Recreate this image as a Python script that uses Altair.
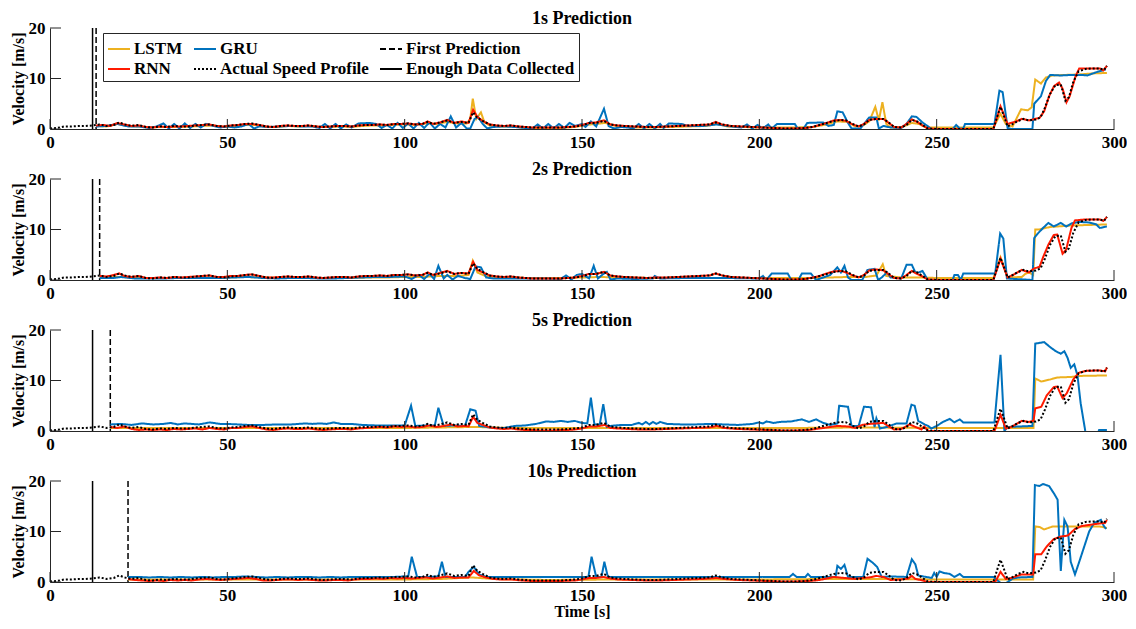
import altair as alt
import pandas as pd

# ---------------- data ----------------
# legend entries are laid out column by column (2 rows x 3 columns)
SERIES_DOMAIN = ["LSTM", "RNN", "GRU", "Actual Speed Profile", "First Prediction", "Enough Data Collected"]
SERIES_COLORS = ["#EDB120", "#FF1A00", "#0072BD", "#000000", "#000000", "#000000"]
SERIES_DASH = [[1, 0], [1, 0], [1, 0], [2, 2], [6, 3], [1, 0]]
PANEL_TITLES = ["1s Prediction", "2s Prediction", "5s Prediction", "10s Prediction"]
ENOUGH_DATA_T = 12
FIRST_PRED_T = [13, 14, 17, 22]
X_TICKS = [0, 50, 100, 150, 200, 250, 300]
Y_TICKS = [0, 10, 20]

ACTUAL = [(0,0.1),(2,0.2),(4,0.5),(6,0.5),(8,0.6),(10,0.6),(12,0.7),(14,0.9),(16,0.6),(18,0.8),(19.5,1.3),(21,0.9),(23,0.6),(25,0.8),(27,0.4),(29,0.3),(31,0.5),(33,0.4),(35,0.6),(37,0.5),(39,0.5),(41,0.7),(43,0.8),(45,0.9),(47,0.6),(49,0.5),(51,0.7),(53,0.8),(55,1.0),(57,1.1),(59,0.8),(61,0.5),(63,0.4),(65,0.6),(67,0.7),(69,0.6),(71,0.6),(73,0.7),(75,0.5),(77,0.4),(79,0.5),(81,0.6),(83,0.6),(85,0.5),(87,0.7),(89,0.8),(91,0.8),(93,0.9),(95,0.8),(97,1.0),(99,1.0),(101,1.1),(103,0.9),(105,1.0),(106.5,1.4),(108,1.0),(110,1.3),(112,1.7),(114,1.2),(116,1.4),(118,1.2),(119.3,3.3),(120.5,2.2),(122,1.6),(124,0.9),(126,0.7),(128,0.6),(130,0.7),(132,0.5),(134,0.4),(136,0.3),(138,0.3),(140,0.3),(142,0.3),(144,0.3),(146,0.4),(148,0.5),(150,0.7),(152,1.2),(154,1.2),(156.2,1.6),(158,0.9),(160,0.7),(162,0.6),(165,0.5),(168,0.4),(171,0.4),(174,0.5),(177,0.6),(180,0.7),(183,0.8),(186,0.9),(187.7,1.3),(189.5,0.9),(192,0.6),(195,0.5),(198,0.4),(201,0.3),(204,0.2),(207,0.1),(210,0.1),(213,0.2),(215,0.4),(217,0.8),(219,1.2),(221,1.6),(223,1.8),(224.5,1.7),(226,1.1),(228,0.5),(229.5,0.9),(231,1.8),(233,2.0),(235,2.0),(236.5,1.3),(238,0.4),(240,0.3),(241.5,0.8),(243,1.8),(244.5,1.5),(246,0.8),(247.5,0.1),(250,0),(254,0),(258,0),(262,0),(266,0),(267,2.3),(268,4.4),(269,2.5),(270,0.5),(271.5,1.0),(273,1.6),(274.5,2.0),(276,1.7),(278,1.9),(279.3,2.3),(280.5,4.2),(282,7.0),(283.5,8.7),(285,8.8),(286.3,5.6),(287.3,6.3),(288.5,9.3),(290,11.4),(292,11.9),(294,12.0),(296,12.0),(297.2,11.7),(298,12.5)]

P1_LSTM = [(13,0.6),(16,0.5),(19,1.0),(22,0.6),(25,0.5),(28,0.3),(31,0.4),(34,0.4),(37,0.4),(40,0.5),(43,0.6),(46,0.7),(49,0.4),(52,0.6),(55,0.8),(58,0.8),(61,0.4),(64,0.4),(67,0.6),(70,0.5),(73,0.6),(76,0.4),(79,0.4),(82,0.5),(85,0.4),(88,0.6),(91,0.7),(94,0.7),(97,0.8),(100,0.9),(103,0.8),(106,1.1),(109,1.0),(112,1.4),(115,1.1),(117.5,1.1),(118.5,2.0),(119.2,6.0),(120.2,2.0),(121.5,3.3),(122.5,1.3),(124,0.7),(127,0.5),(130,0.5),(133,0.3),(136,0.2),(140,0.2),(144,0.2),(148,0.4),(151,0.8),(154,1.0),(156.5,1.2),(159,0.7),(162,0.4),(166,0.3),(170,0.3),(175,0.4),(180,0.5),(185,0.6),(188,1.0),(191,0.5),(195,0.4),(200,0.3),(205,0.3),(210,0.3),(215,0.4),(219,0.9),(222,1.5),(225,1.4),(227,0.5),(229,0.6),(231,1.5),(232.7,4.4),(233.7,1.7),(234.7,5.3),(235.8,1.0),(237,0.3),(240,0.3),(243,1.2),(245,1.0),(247,0.3),(250,0.3),(266,0.3),(268,3.0),(269.5,1.0),(271.4,0.5),(273.8,3.9),(275.7,3.7),(276.8,4.3),(277.8,9.8),(279.4,9.0),(280.8,10.2),(282.7,10.6),(286,10.7),(290,10.8),(294,11.0),(298,11.1)]
P1_GRU = [(13,0.5),(16,0.6),(19,1.0),(22,0.5),(25,0.5),(28,0.2),(30,0.5),(32,1.1),(33.5,0.1),(35,1.0),(36.5,0.1),(38,1.1),(39.5,0.2),(41,1.0),(42.5,0.3),(44,1.0),(46,0.6),(48,0.3),(50,0.5),(52,0.3),(54,0.5),(56,1.0),(57.5,0.1),(59,0.5),(62,0.4),(65,0.5),(68,0.6),(71,0.5),(74,0.5),(76,0.2),(77.5,1.0),(79,0.1),(80.5,1.0),(82,0.1),(83.5,0.9),(85,0.3),(87,1.1),(90,1.2),(92,1.0),(93.5,0.2),(95,0.8),(96.5,0.1),(98,1.2),(99.5,0.2),(101,1.1),(102.5,0.1),(104,1.2),(105.5,0.2),(107,1.3),(108.5,0.1),(110,1.0),(111.5,0.3),(113,2.5),(114.5,0.3),(116,1.2),(117.5,0.1),(118.5,0.1),(119.7,2.0),(120.7,2.4),(122,1.0),(123.3,0.1),(125,0.4),(128,0.5),(131,0.4),(134,0.2),(136,0.1),(137.5,0.9),(139,0.1),(140.5,1.0),(142,0.1),(143.5,1.0),(145,0.2),(146.5,1.2),(148,0.6),(150,1.0),(151,0.4),(152.5,1.5),(154,0.5),(156.2,4.0),(157.5,0.6),(159,0.1),(161,0.4),(163,0.3),(164.5,0.1),(166,1.0),(167.5,0.1),(169,1.0),(170.5,0.1),(172,1.0),(173,0.2),(174.5,1.1),(178,1.0),(180,0.6),(184,0.6),(188,0.9),(192,0.5),(195,0.3),(196.5,0.9),(198,0.1),(199.5,0.8),(201,0.1),(202.5,0.9),(203.5,0.1),(205,1.0),(210,1.0),(210.8,0.1),(212.5,0.1),(213.5,1.2),(218,1.3),(219.5,0.6),(221,0.8),(222,3.5),(223.5,3.3),(225,1.2),(226,0.1),(228.5,0.1),(229.5,1.0),(231,2.3),(233,2.3),(233.7,0.1),(235,0.6),(237,0.3),(240,0.2),(241.5,1.0),(243,2.5),(244.3,2.4),(246,1.3),(247.6,0.5),(248.5,0.0),(254.5,0.0),(255.5,0.8),(256.5,0.1),(257.5,0.1),(258,1.0),(266.3,1.0),(267.7,7.6),(268.6,7.3),(270,0.2),(271,0.0),(277,0.0),(277.5,5.0),(279.4,6.5),(280.8,9.5),(282,10.7),(285,10.6),(288,10.7),(291,10.7),(292.5,10.6),(294.8,11.2),(297.7,11.8)]
P1_RNN = [(13,0.7),(15,0.8),(17,0.6),(19,1.2),(21,0.9),(23,0.6),(25,0.7),(27,0.4),(29,0.3),(31,0.5),(33,0.4),(35,0.5),(37,0.5),(39,0.6),(41,0.7),(43,0.8),(45,0.9),(47,0.6),(49,0.5),(51,0.7),(53,0.8),(55,1.0),(57,1.0),(59,0.8),(61,0.5),(63,0.4),(65,0.6),(67,0.7),(69,0.6),(71,0.6),(73,0.7),(75,0.5),(77,0.4),(79,0.5),(81,0.6),(83,0.6),(85,0.5),(87,0.7),(89,0.8),(91,0.8),(93,0.9),(95,0.8),(97,1.0),(99,1.0),(101,1.1),(103,0.9),(105,1.0),(106.5,1.5),(108,1.0),(110,1.3),(112,1.8),(114,1.2),(116,1.5),(118,1.2),(119.3,3.8),(120.5,2.4),(122,1.6),(124,0.9),(126,0.7),(128,0.6),(130,0.7),(132,0.5),(134,0.4),(136,0.3),(138,0.3),(140,0.3),(142,0.3),(144,0.3),(146,0.4),(148,0.5),(150,0.8),(152,1.2),(154,1.3),(156.2,1.7),(158,0.9),(160,0.7),(162,0.6),(165,0.5),(168,0.4),(171,0.4),(174,0.5),(177,0.6),(180,0.7),(183,0.8),(186,0.9),(187.7,1.4),(189.5,0.9),(192,0.6),(195,0.5),(198,0.4),(201,0.3),(204,0.2),(207,0.1),(210,0.1),(213,0.2),(215,0.4),(217,0.8),(219,1.2),(221,1.7),(223,1.8),(224.5,1.6),(226,1.0),(228,0.5),(229.5,1.0),(231,1.8),(233,2.0),(235,2.0),(236.5,1.2),(238,0.4),(240,0.3),(241.5,1.0),(243,1.9),(244.5,1.4),(246,0.7),(247.5,0.1),(250,0),(266,0),(268,4.5),(270,1.0),(272.4,1.5),(274,2.0),(276,1.7),(279,2.2),(280.3,3.5),(281.7,6.5),(283.1,8.5),(284.5,9.2),(285.5,8.0),(286.6,5.3),(287.5,6.5),(289.2,10.5),(290.2,12.0),(294,12.0),(296,12.0),(297,11.6),(298,12.5)]

P2_LSTM = [(14,0.5),(20,0.6),(25,0.4),(30,0.4),(35,0.4),(40,0.4),(45,0.5),(50,0.5),(55,0.6),(60,0.5),(65,0.4),(70,0.4),(75,0.4),(80,0.4),(85,0.4),(90,0.5),(95,0.5),(100,0.6),(105,0.6),(110,0.8),(115,0.8),(118,1.0),(119.2,3.8),(120.5,1.5),(123,0.7),(128,0.5),(135,0.4),(140,0.4),(145,0.4),(150,0.5),(155,0.6),(160,0.5),(170,0.4),(180,0.4),(190,0.4),(200,0.4),(210,0.4),(215,0.4),(220,0.5),(225,0.6),(230,0.6),(233,0.9),(234.8,3.1),(235.8,0.8),(240,0.5),(245,0.5),(250,0.4),(266,0.4),(268,4.5),(270,0.5),(274,0.6),(275,1.2),(276,1.5),(277.2,1.0),(277.8,10.0),(279,10.0),(280,10.2),(282,10.5),(284,10.6),(288,10.8),(298,11.0)]
P2_GRU = [(14,0.4),(18,0.4),(20,0.6),(24,0.3),(28,0.3),(32,0.3),(36,0.4),(40,0.4),(44,0.4),(48,0.4),(52,0.5),(56,0.6),(60,0.4),(64,0.3),(68,0.4),(72,0.4),(76,0.3),(80,0.3),(84,0.4),(88,0.5),(92,0.6),(96,0.6),(100,0.7),(102,0.2),(104,1.0),(105.5,0.2),(107,1.2),(108.3,0.2),(109.5,2.8),(111,0.3),(112,1.0),(113.5,0.1),(115,0.8),(117,0.4),(118.5,0.2),(120,2.7),(121.5,2.5),(123,0.5),(125,0.3),(130,0.3),(135,0.3),(140,0.3),(144,0.2),(145.5,0.9),(147,0.1),(148.5,1.0),(150,1.2),(152,0.3),(153.3,2.8),(154.5,0.3),(156,1.2),(157,1.6),(158,0.1),(160,0.3),(165,0.2),(170,0.3),(170.5,0.8),(172,0.3),(180,0.4),(190,0.4),(200,0.3),(201,0.8),(202,0.0),(203.5,1.3),(208,1.3),(209,0.0),(211,0.0),(212,1.3),(214.5,1.3),(216,0.0),(218,0.5),(220,1.0),(222,2.5),(223,1.5),(224,2.8),(225,0.5),(226,0.0),(229,0.0),(230.5,2.0),(232.5,2.2),(233.5,0.0),(234.5,0.5),(236,1.5),(237,0.5),(240,0.3),(241.5,3.0),(243,3.0),(244,1.5),(245,1.5),(246,1.8),(247.5,0.0),(254.5,0.0),(255,1.0),(256,1.0),(256.8,0.0),(257.5,1.3),(266.5,1.3),(267.9,9.2),(268.8,8.2),(269.8,0.3),(277,0.0),(277.5,8.3),(278.5,9.2),(280,10.3),(281.5,11.3),(283,10.6),(285,11.3),(286.5,10.6),(288,11.2),(290,11.5),(293,11.4),(295,11.0),(296,10.3),(298,10.6)]
P2_RNN = [(14,0.8),(16,0.7),(18,1.0),(19.5,1.3),(21,0.8),(23,0.6),(25,0.8),(27,0.4),(29,0.4),(31,0.5),(33,0.4),(35,0.6),(37,0.5),(39,0.6),(41,0.7),(43,0.8),(45,0.9),(47,0.6),(49,0.6),(51,0.8),(53,0.8),(55,1.0),(57,1.1),(59,0.8),(61,0.5),(63,0.5),(65,0.6),(67,0.7),(69,0.6),(71,0.6),(73,0.7),(75,0.5),(77,0.4),(79,0.5),(81,0.6),(83,0.6),(85,0.5),(87,0.7),(89,0.8),(91,0.8),(93,0.9),(95,0.8),(97,1.0),(99,1.0),(101,1.1),(103,0.9),(105,1.0),(106.5,1.5),(108,1.0),(110,1.4),(112,1.8),(114,1.2),(116,1.4),(118,1.3),(119.3,3.6),(120.5,2.0),(122,1.5),(124,0.9),(126,0.7),(128,0.6),(130,0.7),(132,0.5),(134,0.4),(136,0.3),(138,0.3),(140,0.3),(142,0.3),(144,0.3),(146,0.4),(148,0.5),(150,0.8),(152,1.2),(154,1.2),(156.2,1.6),(158,0.9),(160,0.7),(162,0.6),(165,0.5),(168,0.4),(171,0.5),(174,0.5),(177,0.6),(180,0.7),(183,0.8),(186,0.9),(187.7,1.3),(189.5,0.9),(192,0.6),(195,0.5),(198,0.4),(201,0.3),(204,0.2),(207,0.1),(210,0.1),(213,0.2),(215,0.5),(217,0.8),(219,1.3),(221,1.7),(223,1.8),(224.5,1.5),(226,1.0),(228,0.5),(229.5,1.0),(231,1.9),(233,2.1),(235,1.9),(236.5,1.1),(238,0.4),(240,0.3),(241.5,1.0),(243,1.8),(244.5,1.2),(246,0.7),(247.5,0.1),(250,0),(266,0),(268,4.2),(270,0.5),(271.5,1.0),(274,2.0),(276,1.5),(277.5,2.3),(279,2.6),(280,4.5),(281.5,7.0),(283,8.9),(284,9.0),(285.5,5.2),(286.5,6.0),(288,10.3),(289,11.8),(292,12.0),(296,12.0),(297,11.7),(298,12.5)]

P3_LSTM = [(17,0.6),(30,0.6),(50,0.6),(70,0.6),(90,0.6),(100,0.6),(110,0.7),(120,0.8),(130,0.6),(150,0.6),(170,0.6),(190,0.6),(210,0.6),(230,0.7),(250,0.6),(277.3,0.6),(277.8,10.4),(279.5,9.8),(282,10.2),(284,10.6),(288,10.7),(290,10.9),(298,11.0)]
P3_GRU = [(17,1.3),(20,1.4),(23,1.2),(26,1.5),(29,1.3),(32,1.4),(34,1.6),(36,1.3),(38,1.5),(40,1.4),(42,1.3),(45,1.7),(48,1.4),(50,1.4),(53,1.3),(56,1.2),(60,1.2),(64,1.3),(68,1.3),(72,1.5),(74,1.4),(76,1.5),(78,1.4),(80,1.7),(82,1.4),(85,1.4),(88,1.2),(92,1.1),(96,1.1),(100,1.1),(101.8,5.0),(103,1.0),(106,1.1),(108.5,1.1),(109.5,4.6),(111,1.0),(114,1.1),(117,1.0),(118.5,4.3),(120,4.0),(121,1.0),(123,0.8),(125,0.6),(128,0.6),(131,1.0),(134,1.1),(137,1.4),(140,1.9),(142,1.8),(144,2.0),(146,1.8),(148,2.0),(150,1.6),(151.5,1.5),(152.5,6.6),(153.5,1.3),(155,1.3),(156,5.3),(157,0.8),(158,1.0),(161,1.2),(164,1.2),(166,1.6),(167,1.3),(168,1.8),(169,1.3),(170,1.8),(171,1.4),(172,1.8),(174,1.4),(178,1.3),(182,1.3),(186,1.4),(190,1.3),(194,1.2),(198,1.4),(200,1.7),(201,1.5),(202,1.9),(204,1.6),(206,1.8),(209,1.9),(212,2.3),(214,1.8),(216,2.3),(218,1.6),(220,1.2),(222,1.5),(222.5,5.0),(225,4.8),(226,1.0),(228,1.0),(229.5,4.8),(231.5,4.7),(232.5,0.8),(233,2.5),(234,0.5),(236,0.8),(238.7,1.5),(241.5,1.5),(242.9,5.2),(243.8,5.0),(244.8,2.0),(246.6,1.3),(247.6,1.0),(248.5,0.5),(250,1.0),(251.8,1.8),(253.7,2.4),(255,1.7),(256.5,2.3),(257.5,1.7),(266.3,1.7),(268,15.1),(269.1,0.0),(270,0.8),(277,1.0),(277.8,17.3),(280.3,17.6),(282.2,16.5),(283.6,15.8),(285,15.3),(286,15.8),(286.9,14.5),(287.8,12.5),(288.8,13.2),(289.7,11.0),(290.6,5.5),(291.9,0.0),(293,-3.0),(295.2,-1.0),(295.8,0.2),(298,0.2)]
P3_RNN = [(17,0.8),(19,0.6),(21,0.9),(23,0.4),(25,0.2),(27,0.3),(29,0.2),(31,0.3),(33,0.2),(35,0.4),(37,0.3),(39,0.4),(41,0.5),(43,0.3),(45,0.6),(47,0.4),(49,0.3),(51,0.6),(53,0.6),(55,0.8),(57,0.9),(59,0.6),(61,0.3),(63,0.2),(65,0.4),(67,0.5),(69,0.4),(71,0.4),(73,0.5),(75,0.3),(77,0.2),(79,0.3),(81,0.4),(83,0.4),(85,0.3),(87,0.5),(89,0.6),(91,0.7),(93,0.8),(95,0.7),(97,0.9),(99,0.8),(101,0.9),(103,0.7),(105,0.8),(107,1.1),(109,0.8),(111,1.0),(113,1.3),(115,0.9),(117,1.0),(118,0.9),(119.3,2.8),(120.5,1.6),(122,1.2),(124,0.7),(126,0.5),(128,0.4),(130,0.5),(132,0.3),(134,0.2),(136,0.2),(138,0.1),(140,0.1),(142,0.1),(144,0.2),(146,0.2),(148,0.3),(150,0.5),(152,0.9),(154,0.9),(156.5,1.2),(158,0.6),(160,0.5),(163,0.4),(166,0.3),(170,0.3),(174,0.4),(178,0.5),(182,0.6),(186,0.7),(188,1.0),(190,0.6),(194,0.4),(198,0.3),(202,0.2),(206,0.1),(210,0.1),(214,0.2),(217,0.5),(220,0.8),(222,1.0),(225,0.9),(227,0.6),(229,1.2),(231,1.4),(233,1.5),(235,1.6),(236.5,0.9),(238,0.3),(240,0.4),(242.4,1.3),(244,0.8),(245.7,0.3),(246.5,0.9),(247.6,0.0),(266.3,0.0),(268,3.2),(269.5,0.5),(271,0.8),(274,2.0),(276,1.8),(277.3,2.0),(277.8,4.5),(279.5,4.8),(281,7.0),(283,8.7),(284,8.8),(285.5,6.5),(286.7,7.5),(288.5,10.2),(290,11.5),(292,11.9),(296,12.0),(297.5,11.8),(298,12.6)]

P4_LSTM = [(22,0.5),(40,0.5),(60,0.5),(80,0.5),(100,0.5),(110,0.6),(119,0.9),(125,0.6),(140,0.4),(160,0.5),(180,0.5),(200,0.5),(220,0.6),(235,0.6),(250,0.5),(277.2,0.5),(277.8,11.0),(279,10.9),(280.3,10.4),(282.7,11.0),(290,11.0),(296,11.0),(298,10.7)]
P4_GRU = [(22,1.0),(25,1.0),(28,0.9),(31,1.0),(34,0.9),(37,1.0),(40,0.9),(43,1.0),(46,0.9),(49,1.0),(52,1.0),(55,1.1),(58,1.0),(61,0.9),(64,1.0),(67,0.9),(70,1.0),(73,1.0),(76,0.9),(79,1.0),(82,0.9),(85,1.0),(88,1.0),(91,1.0),(94,1.0),(97,1.0),(100,1.1),(101,1.1),(102,5.0),(103.5,1.0),(106,1.0),(109.5,1.1),(110.5,4.0),(111.5,1.0),(114,1.0),(117,1.0),(118,2.0),(119.5,3.0),(121,1.5),(123,1.0),(126,1.0),(130,1.0),(134,1.0),(138,1.0),(142,1.0),(146,1.0),(150,1.0),(151.8,1.0),(152.7,5.0),(154,1.0),(155.5,1.0),(156.3,4.0),(157.3,1.0),(160,1.0),(170,1.0),(180,1.0),(190,1.0),(200,1.0),(208.5,1.0),(209.5,1.6),(210.5,1.0),(213,1.0),(213.7,1.6),(214.5,1.0),(220,1.0),(221.5,1.0),(222,3.2),(223,2.6),(224,3.4),(225,1.0),(229.3,1.0),(230.5,4.6),(232,3.8),(233.2,3.0),(234.5,1.0),(237,1.1),(241.5,1.0),(243,4.5),(244,3.5),(244.8,1.3),(247,1.0),(248.6,0.8),(249.3,1.8),(250,1.0),(250.8,2.1),(252,1.8),(253.7,1.6),(255,1.0),(256.5,1.6),(257.5,1.0),(266,1.0),(266.8,0.5),(267.7,0.0),(268.8,-0.5),(270,0.0),(271.5,0.7),(273,0.9),(277,1.0),(277.7,19.2),(278.9,19.0),(280,19.4),(281.7,19.0),(283.1,17.5),(284.1,16.3),(284.6,8.0),(285,2.2),(286,12.3),(286.9,11.0),(287.8,4.0),(289,1.5),(290.2,4.0),(291.6,7.0),(293,10.0),(294.4,11.7),(296.3,12.3),(297.2,11.0),(297.8,10.5)]
P4_RNN = [(22,0.6),(24,0.4),(26,0.3),(28,0.2),(30,0.3),(32,0.2),(34,0.4),(36,0.3),(38,0.4),(40,0.3),(42,0.5),(44,0.6),(46,0.5),(48,0.4),(50,0.5),(52,0.6),(54,0.7),(56,0.8),(58,0.6),(60,0.3),(62,0.3),(64,0.4),(66,0.5),(68,0.5),(70,0.4),(72,0.5),(74,0.4),(76,0.3),(78,0.3),(80,0.4),(82,0.4),(84,0.3),(86,0.5),(88,0.6),(90,0.6),(92,0.7),(94,0.6),(96,0.8),(98,0.7),(100,0.8),(102,0.7),(104,0.8),(106,0.9),(108,0.7),(110,0.9),(112,1.1),(114,0.8),(116,0.9),(118,0.9),(119.5,2.2),(121,1.3),(123,0.9),(125,0.6),(127,0.5),(130,0.5),(133,0.3),(136,0.2),(140,0.2),(144,0.2),(148,0.3),(150,0.5),(152,0.8),(154,0.8),(156,1.0),(158,0.7),(160,0.5),(164,0.4),(168,0.3),(172,0.3),(176,0.4),(180,0.5),(184,0.6),(188,0.8),(190,0.6),(194,0.4),(198,0.3),(202,0.2),(206,0.1),(210,0.1),(214,0.2),(217,0.4),(219,0.7),(221,1.0),(224,0.8),(227,0.6),(229,0.8),(231,0.9),(233,1.2),(235,1.0),(237,0.4),(240,0.5),(242,0.7),(243,1.2),(244,0.6),(245.5,0.4),(247.5,0.0),(266.5,0.0),(268,2.0),(269.5,0.6),(271,0.8),(274,1.5),(277.2,1.5),(277.8,5.5),(279.5,5.5),(281,7.0),(283,8.5),(285,9.0),(287,9.2),(289,10.5),(291,11.1),(293,11.3),(295,11.5),(297.5,11.7),(298,12.3)]

PANEL_SERIES = [
    {"LSTM": P1_LSTM, "GRU": P1_GRU, "RNN": P1_RNN},
    {"LSTM": P2_LSTM, "GRU": P2_GRU, "RNN": P2_RNN},
    {"LSTM": P3_LSTM, "GRU": P3_GRU, "RNN": P3_RNN},
    {"LSTM": P4_LSTM, "GRU": P4_GRU, "RNN": P4_RNN},
]

# ---------------- chart ----------------
W, H = 1064, 101
FONT = "Liberation Serif, Times New Roman, Times, serif"
AXC = "#262626"


def pts_df(points, name):
    return pd.DataFrame({"t": [p[0] for p in points],
                         "v": [p[1] for p in points],
                         "series": [name] * len(points)})


def make_panel(i):
    last = i == 3
    if i == 0:
        leg = alt.Legend(title=None, orient="none", legendX=53, legendY=5, columns=3,
                         columnPadding=7, rowPadding=0, padding=4, fillColor="white",
                         strokeColor=AXC, symbolType="stroke", symbolSize=484,
                         symbolStrokeWidth=2, labelFont=FONT, labelFontSize=17,
                         labelFontWeight="bold", labelColor="black", labelLimit=400,
                         labelOffset=3)
    else:
        leg = None
    color = alt.Color("series:N", scale=alt.Scale(domain=SERIES_DOMAIN, range=SERIES_COLORS), legend=leg)
    dash = alt.StrokeDash("series:N", scale=alt.Scale(domain=SERIES_DOMAIN, range=SERIES_DASH), legend=leg)
    x = alt.X("t:Q", scale=alt.Scale(domain=[0, 300], nice=False, zero=False),
              axis=alt.Axis(values=X_TICKS, format="d", labelFlush=False, ticks=False,
                            grid=False, labelPadding=5, titlePadding=0),
              title="Time [s]" if last else None)
    y = alt.Y("v:Q", scale=alt.Scale(domain=[0, 20], nice=False),
              axis=alt.Axis(values=Y_TICKS, ticks=False, grid=False, labelPadding=5,
                            titlePadding=2),
              title="Velocity [m/s]")

    rules_df = pd.DataFrame({"t": [ENOUGH_DATA_T, FIRST_PRED_T[i]],
                             "series": ["Enough Data Collected", "First Prediction"]})
    layers = [alt.Chart(rules_df).mark_rule(strokeWidth=1.5).encode(
        x=x, y=alt.value(0), y2=alt.value(H), color=color, strokeDash=dash)]
    s = PANEL_SERIES[i]
    for name, pts in [("LSTM", s["LSTM"]), ("GRU", s["GRU"]), ("RNN", s["RNN"]),
                      ("Actual Speed Profile", ACTUAL)]:
        layers.append(alt.Chart(pts_df(pts, name)).mark_line(strokeWidth=2, clip=True).encode(
            x=x, y=y, color=color, strokeDash=dash))
    xt = alt.Chart(pd.DataFrame({"t": X_TICKS})).mark_rule(color=AXC, strokeWidth=1).encode(
        x=x, y=alt.value(H), y2=alt.value(H - 10))
    yt = alt.Chart(pd.DataFrame({"v": Y_TICKS})).mark_rule(color=AXC, strokeWidth=1).encode(
        y=y, x=alt.value(0), x2=alt.value(11))
    layers += [xt, yt]
    return alt.layer(*layers).properties(
        width=W, height=H,
        title=alt.TitleParams(PANEL_TITLES[i], font=FONT, fontSize=18, fontWeight="bold",
                              anchor="middle", offset=-8.5, frame="group", color="black"))


chart = alt.vconcat(*[make_panel(i) for i in range(4)], spacing=10).resolve_scale(
    color="independent", strokeDash="independent"
).properties(
    padding={"left": 2, "top": 1, "right": 0, "bottom": 0}
).configure_axis(
    labelFont=FONT, labelFontSize=17, labelFontWeight="bold", labelColor="black",
    titleFont=FONT, titleFontSize=16, titleFontWeight="bold", titleColor="black",
    domainColor=AXC, domainWidth=1
).configure_view(strokeWidth=0)

chart.save("out.html", embed_options={"renderer": "svg", "actions": False})
